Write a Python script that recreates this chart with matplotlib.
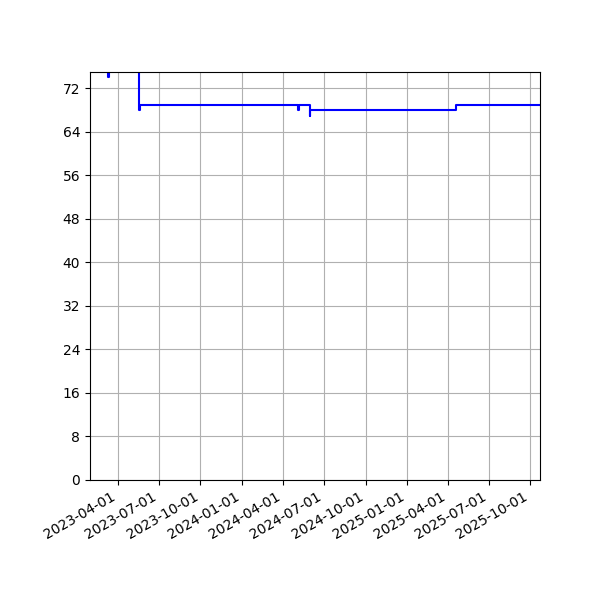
import numpy as np
import pandas as pd
import matplotlib
matplotlib.use("Agg")
import matplotlib.pyplot as plt
import matplotlib.dates as mdates

# change points of the series (value holds until next date)
dates = pd.to_datetime([
    "2023-01-29", "2023-03-10", "2023-03-12",
    "2023-05-17", "2023-05-19",
    "2024-05-05", "2024-05-07",
    "2024-05-30", "2024-06-01",
    "2025-04-19", "2025-10-25",
])
values = [80, 74, 80, 68, 69, 68, 69, 67, 68, 69, 69]

yticks = list(range(0, 73, 8))

fig, ax = plt.subplots(figsize=(6, 6), dpi=100)
ax.plot(dates, values, color="blue", drawstyle="steps-post", linewidth=1.5)

ax.set_ylim(0, 75)
ax.set_yticks(yticks)
ax.set_xlim(pd.Timestamp("2023-01-29"), pd.Timestamp("2025-10-23"))
ax.xaxis.set_major_locator(mdates.MonthLocator(bymonth=[1, 4, 7, 10]))
ax.xaxis.set_major_formatter(mdates.DateFormatter("%Y-%m-%d"))
ax.grid(True)

fig.autofmt_xdate()
fig.subplots_adjust(left=0.15, right=0.9, top=0.88, bottom=0.2)
fig.savefig("out.png")
